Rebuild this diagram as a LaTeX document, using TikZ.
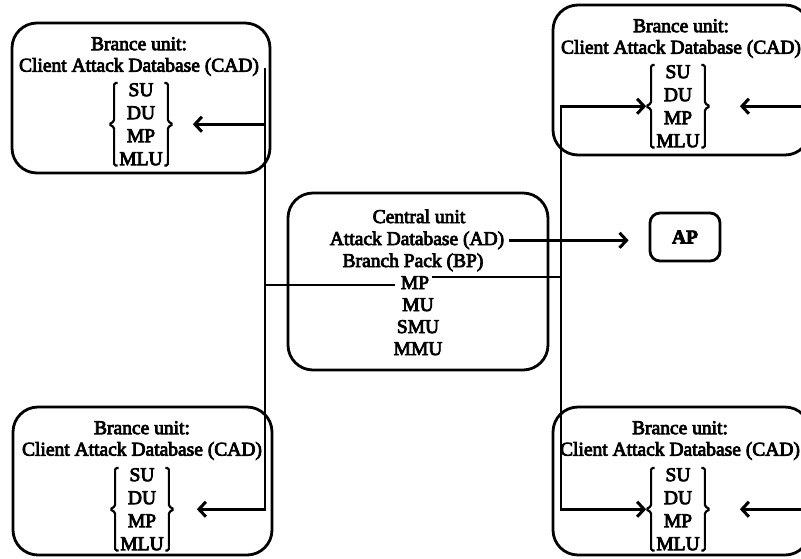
\documentclass[tikz,border=0pt]{standalone}
\usepackage{fontspec}
\setmainfont{Liberation Serif}[FakeBold=4]
\usetikzlibrary{arrows.meta,calc}
\tikzset{barb/.tip={Straight Barb[length=7pt,width=15pt,line width=3pt]}}
\newcommand\drawbrk[1]{%
  \draw[brk] ([xshift=-1.5pt]#1.north west) -- ([xshift=-5pt]#1.north west) -- ([xshift=-5pt,yshift=3pt]#1.west) -- ([xshift=-10pt]#1.west) -- ([xshift=-5pt,yshift=-3pt]#1.west) -- ([xshift=-5pt]#1.south west) -- ([xshift=-1.5pt]#1.south west);
  \draw[brk] ([xshift=1.5pt]#1.north east) -- ([xshift=5pt]#1.north east) -- ([xshift=5pt,yshift=3pt]#1.east) -- ([xshift=10pt]#1.east) -- ([xshift=5pt,yshift=-3pt]#1.east) -- ([xshift=5pt]#1.south east) -- ([xshift=1.5pt]#1.south east);}
\begin{document}
\begin{tikzpicture}[x=1pt,y=-1pt,
  box/.style={draw,line width=2.8pt,rounded corners=25pt,inner sep=0},
  txt/.style={inner sep=0,align=center,font=\fontsize{19.5}{21.5}\selectfont},
  lst/.style={inner sep=0,align=center,font=\fontsize{19.5}{23}\selectfont,anchor=north},
  conn/.style={line width=2.8pt},
  arr/.style={line width=2.8pt,-barb},
  brk/.style={line width=2.2pt,rounded corners=1.5pt}]
\useasboundingbox (0,0) rectangle (801,558);
\clip (0,0) rectangle (801,558);
% boxes
\node[box,minimum width=258pt,minimum height=150pt] (tl) at (141,98) {};
\node[box,minimum width=257pt,minimum height=150pt] (tr) at (681.5,80) {};
\node[box,minimum width=259pt,minimum height=148pt] (bl) at (142.5,481) {};
\node[box,minimum width=257pt,minimum height=148pt] (br) at (681.5,481) {};
\node[box,minimum width=260pt,minimum height=177pt] (cb) at (418,281.5) {};
\node[box,rounded corners=10pt,minimum width=70pt,minimum height=48pt,font=\fontsize{19.5}{21.5}\selectfont\bfseries] (ap) at (685,237) {AP};
% branch texts
\node[txt,anchor=north] (tlT) at (139,37) {Brance unit:\\Client Attack Database (CAD)};
\node[lst] (tlL) at (141,83) {SU\\DU\\MP\\MLU};
\node[txt,anchor=north] (trT) at (681,19) {Brance unit:\\Client Attack Database (CAD)};
\node[lst] (trL) at (678,65) {SU\\DU\\MP\\MLU};
\node[txt,anchor=north] (blT) at (142,421) {Brance unit:\\Client Attack Database (CAD)};
\node[lst] (blL) at (142,468) {SU\\DU\\MP\\MLU};
\node[txt,anchor=north] (brT) at (680,421) {Brance unit:\\Client Attack Database (CAD)};
\node[lst] (brL) at (678,468) {SU\\DU\\MP\\MLU};
\drawbrk{tlL}\drawbrk{trL}\drawbrk{blL}\drawbrk{brL}
% central texts
\node[txt,anchor=base] (c1) at (419,223) {Central unit};
\node[txt,anchor=base] (ad) at (417,245) {Attack Database (AD)};
\node[txt,anchor=base] (bp) at (413,267) {Branch Pack (BP)};
\node[txt,anchor=base] (mp) at (415,289) {MP};
\node[txt,anchor=base] (mu) at (418,311) {MU};
\node[txt,anchor=base] (smu) at (418,333) {SMU};
\node[txt,anchor=base] (mmu) at (418,355) {MMU};
% connectors
\coordinate (lvTop) at (265,68);
\coordinate (rvx) at (561,0);
\coordinate (redge) at (806,0);
\coordinate (mpL) at ([xshift=-6pt,yshift=4pt]mp.base west);
\coordinate (mpR) at ([xshift=3pt,yshift=12pt]mp.base east);
\draw[arr] (lvTop) -- (lvTop |- blL.west) -- ([xshift=33pt]blL.east);
\draw[arr] (lvTop |- tlL.east) -- ([xshift=30pt]tlL.east);
\draw[conn] (mpL) -- (lvTop |- mpL);
\draw[conn] (mpR) -- (rvx |- mpR);
\draw[conn,barb-barb] ([xshift=-10pt]trL.west) -- (rvx |- trL.west) -- (rvx |- brL.west) -- ([xshift=-10pt]brL.west);
\draw[arr] (redge |- trL.east) -- ([xshift=40pt]trL.east);
\draw[arr] (redge |- brL.east) -- ([xshift=40pt]brL.east);
\draw[arr] ([xshift=5pt]ad.east) -- ($(ad.east -| ap.west)+(-20,0)$);
\end{tikzpicture}
\end{document}
